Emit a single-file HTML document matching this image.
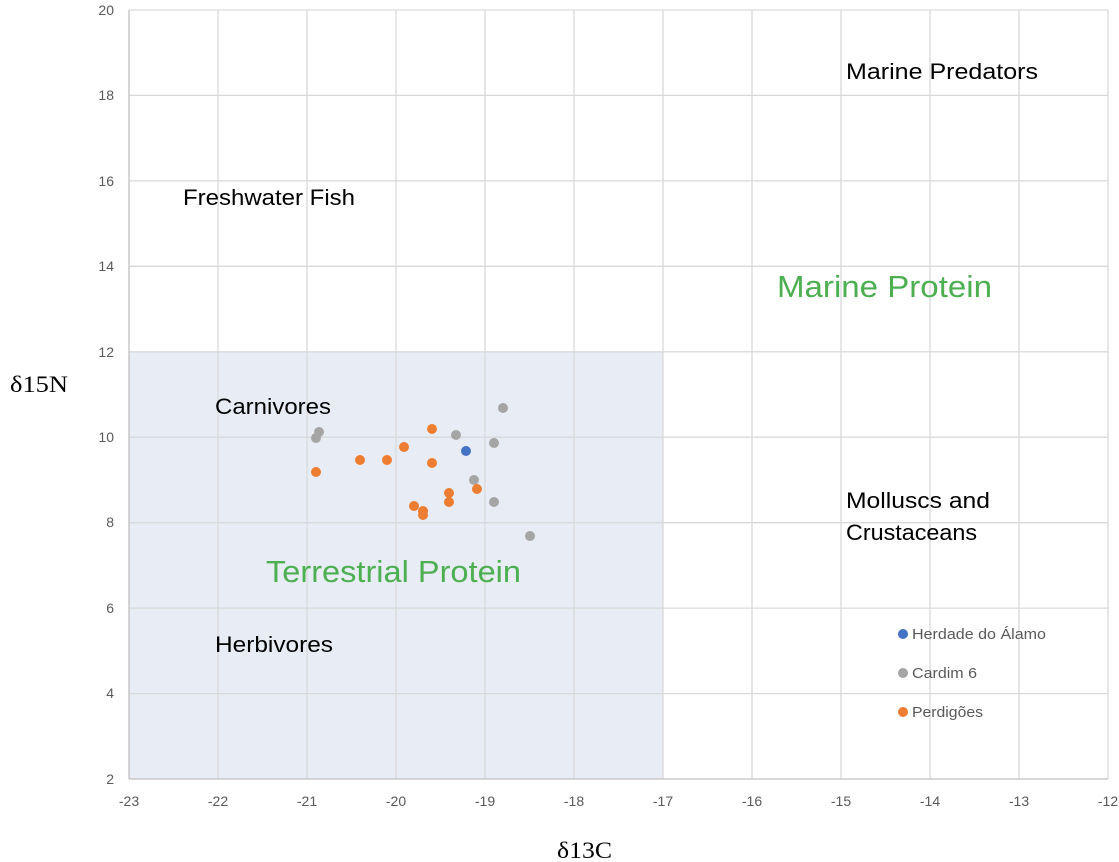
<!DOCTYPE html>
<html><head><meta charset="utf-8"><style>
html,body{margin:0;padding:0;background:#fff;}
svg{display:block;}
</style></head><body>
<svg width="1119" height="862" viewBox="0 0 1119 862" xmlns="http://www.w3.org/2000/svg" font-family="Liberation Sans, sans-serif">
<rect x="129" y="352" width="534" height="427" fill="#e8ecf5"/>
<g stroke="#d9d9d9" stroke-width="1.3">
<line x1="218" y1="10" x2="218" y2="779"/><line x1="307" y1="10" x2="307" y2="779"/><line x1="396" y1="10" x2="396" y2="779"/><line x1="485" y1="10" x2="485" y2="779"/><line x1="574" y1="10" x2="574" y2="779"/><line x1="663" y1="10" x2="663" y2="779"/><line x1="752" y1="10" x2="752" y2="779"/><line x1="841" y1="10" x2="841" y2="779"/><line x1="930" y1="10" x2="930" y2="779"/><line x1="1019" y1="10" x2="1019" y2="779"/><line x1="1108" y1="10" x2="1108" y2="779"/>
<line x1="129" y1="10" x2="1108" y2="10"/><line x1="129" y1="95.4" x2="1108" y2="95.4"/><line x1="129" y1="180.9" x2="1108" y2="180.9"/><line x1="129" y1="266.3" x2="1108" y2="266.3"/><line x1="129" y1="351.8" x2="1108" y2="351.8"/><line x1="129" y1="437.2" x2="1108" y2="437.2"/><line x1="129" y1="522.7" x2="1108" y2="522.7"/><line x1="129" y1="608.1" x2="1108" y2="608.1"/><line x1="129" y1="693.6" x2="1108" y2="693.6"/>
</g>
<line x1="129" y1="10" x2="129" y2="779" stroke="#bfbfbf" stroke-width="1.3"/>
<line x1="129" y1="779" x2="1108" y2="779" stroke="#bfbfbf" stroke-width="1.3"/>
<g fill="#595959" font-size="14" text-anchor="end">
<text x="114" y="15">20</text><text x="114" y="100">18</text><text x="114" y="186">16</text><text x="114" y="271">14</text><text x="114" y="357">12</text><text x="114" y="442">10</text><text x="114" y="527">8</text><text x="114" y="613">6</text><text x="114" y="698">4</text><text x="114" y="784">2</text>
</g>
<g fill="#595959" font-size="14" text-anchor="middle">
<text x="129" y="806">-23</text><text x="218" y="806">-22</text><text x="307" y="806">-21</text><text x="396" y="806">-20</text><text x="485" y="806">-19</text><text x="574" y="806">-18</text><text x="663" y="806">-17</text><text x="752" y="806">-16</text><text x="841" y="806">-15</text><text x="930" y="806">-14</text><text x="1019" y="806">-13</text><text x="1108" y="806">-12</text>
</g>
<text x="10" y="392" font-family="Liberation Serif, serif" font-size="23" textLength="58" lengthAdjust="spacingAndGlyphs" fill="#000">δ15N</text>
<text x="557" y="858" font-family="Liberation Serif, serif" font-size="23" textLength="55" lengthAdjust="spacingAndGlyphs" fill="#000">δ13C</text>
<g font-size="22" fill="#000">
<text x="846" y="79" textLength="192" lengthAdjust="spacingAndGlyphs">Marine Predators</text>
<text x="183" y="205" textLength="172" lengthAdjust="spacingAndGlyphs">Freshwater Fish</text>
<text x="215" y="414" textLength="116" lengthAdjust="spacingAndGlyphs">Carnivores</text>
<text x="846" y="508" textLength="144" lengthAdjust="spacingAndGlyphs">Molluscs and</text>
<text x="846" y="540" textLength="131" lengthAdjust="spacingAndGlyphs">Crustaceans</text>
<text x="215" y="652" textLength="118" lengthAdjust="spacingAndGlyphs">Herbivores</text>
</g>
<text x="777" y="297" font-size="31" textLength="215" lengthAdjust="spacingAndGlyphs" fill="#4caf50">Marine Protein</text>
<text x="266" y="582" font-size="31" textLength="255" lengthAdjust="spacingAndGlyphs" fill="#4caf50">Terrestrial Protein</text>
<g fill="#a5a5a5">
<circle cx="319" cy="432" r="5"/><circle cx="316" cy="438" r="5"/><circle cx="503" cy="408" r="5"/><circle cx="456" cy="435" r="5"/><circle cx="494" cy="443" r="5"/><circle cx="474" cy="480" r="5"/><circle cx="494" cy="502" r="5"/><circle cx="530" cy="536" r="5"/>
</g>
<g fill="#ed7d31">
<circle cx="316" cy="472" r="5"/><circle cx="360" cy="460" r="5"/><circle cx="387" cy="460" r="5"/><circle cx="404" cy="447" r="5"/><circle cx="432" cy="429" r="5"/><circle cx="432" cy="463" r="5"/><circle cx="414" cy="506" r="5"/><circle cx="423" cy="511" r="5"/><circle cx="423" cy="515" r="5"/><circle cx="449" cy="493" r="5"/><circle cx="449" cy="502" r="5"/><circle cx="477" cy="489" r="5"/>
</g>
<circle cx="466" cy="451" r="5" fill="#4472c4"/>
<g font-size="15" fill="#595959">
<circle cx="903" cy="634" r="5" fill="#4472c4"/><text x="912" y="639" textLength="134" lengthAdjust="spacingAndGlyphs">Herdade do Álamo</text>
<circle cx="903" cy="673" r="5" fill="#a5a5a5"/><text x="912" y="678" textLength="65" lengthAdjust="spacingAndGlyphs">Cardim 6</text>
<circle cx="903" cy="712" r="5" fill="#ed7d31"/><text x="912" y="717" textLength="71" lengthAdjust="spacingAndGlyphs">Perdigões</text>
</g>
</svg>
</body></html>
